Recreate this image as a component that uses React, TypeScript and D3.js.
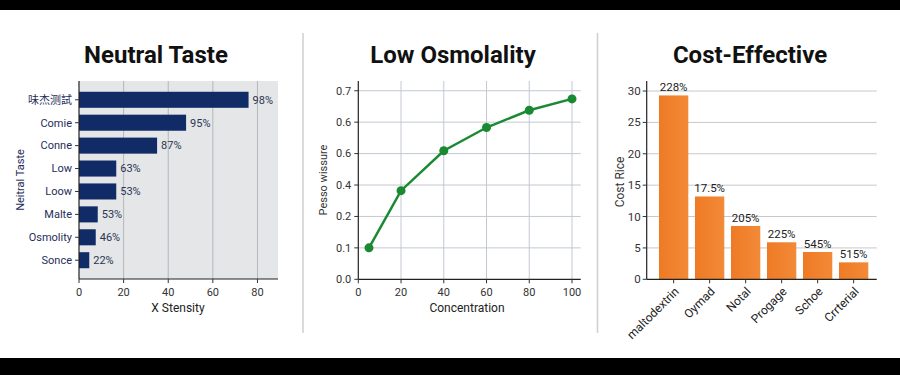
import React from "react";
import * as d3 from "d3";

const tasteCategories = ["味杰测試", "Comie", "Conne", "Low", "Loow", "Malte", "Osmolity", "Sonce"];
const tasteValues = [76, 48, 35, 16.7, 16.7, 8.4, 7.5, 4.6];
const tasteLabels = ["98%", "95%", "87%", "63%", "53%", "53%", "46%", "22%"];
const tasteTicks = [0, 20, 40, 60, 80];

const osmoX = [5, 20, 40, 60, 80, 100];
const osmoY = [0.1, 0.282, 0.409, 0.483, 0.538, 0.574];
const osmoXTicks = [0, 20, 40, 60, 80, 100];
const osmoYTicks = [0, 0.1, 0.2, 0.3, 0.4, 0.5, 0.6];
const osmoYTickLabels = ["0.0", "0.1", "0.2", "0.4", "0.6", "0.6", "0.7"];

const costCategories = ["maltodextrin", "Oymad", "Notal", "Progage", "Schoe", "Crrterial"];
const costValues = [29.3, 13.2, 8.5, 5.9, 4.35, 2.7];
const costLabels = ["228%", "17.5%", "205%", "225%", "545%", "515%"];
const costTicks = [0, 5, 10, 15, 20, 25, 30];

const FONT = "Roboto, 'Noto Sans', 'Noto Sans CJK SC', sans-serif";

function TastePanel() {
  const x0 = 79, x1 = 278, y0 = 81, y1 = 279;
  const x = d3.scaleLinear().domain([0, 89.2]).range([x0, x1]);
  const y = d3.scaleBand<string>().domain(tasteCategories.map((c, i) => i + "")).range([y0, y1]).paddingInner(0.3).paddingOuter(0.47);
  const navy = "#102b66";
  return (
    <g>
      <text x={156} y={63} textAnchor="middle" fontSize={24} fontWeight="bold" fill="#111" fontFamily={FONT}>Neutral Taste</text>
      <rect x={x0} y={y0} width={x1 - x0} height={y1 - y0} fill="#e4e6e8" />
      {tasteTicks.filter((t) => t > 0).map((t) => (
        <line key={t} x1={x(t)} x2={x(t)} y1={y0} y2={y1} stroke="#b4b8bd" strokeWidth={1} />
      ))}
      {tasteValues.map((v, i) => (
        <rect key={i} x={x(0)} y={y(i + "")!} width={x(v) - x(0)} height={y.bandwidth()} fill={navy} />
      ))}
      {tasteValues.map((v, i) => (
        <text key={i} x={x(v) + 4} y={y(i + "")! + y.bandwidth() / 2} dy="0.35em" fontSize={11} fill="#2b3550" fontFamily={FONT}>{tasteLabels[i]}</text>
      ))}
      <line x1={x0} x2={x0} y1={y0} y2={y1} stroke="#222" strokeWidth={1.2} />
      <line x1={x0} x2={x1} y1={y1} y2={y1} stroke="#222" strokeWidth={1.2} />
      {tasteCategories.map((c, i) => (
        <g key={i}>
          <line x1={x0 - 4} x2={x0} y1={y(i + "")! + y.bandwidth() / 2} y2={y(i + "")! + y.bandwidth() / 2} stroke="#333" />
          <text x={x0 - 7} y={y(i + "")! + y.bandwidth() / 2} dy="0.35em" textAnchor="end" fontSize={11} fill="#1f2d5a" fontFamily={FONT}>{c}</text>
        </g>
      ))}
      {tasteTicks.map((t) => (
        <g key={t}>
          <line x1={x(t)} x2={x(t)} y1={y1} y2={y1 + 4} stroke="#333" />
          <text x={x(t)} y={y1 + 17} textAnchor="middle" fontSize={11} fill="#333" fontFamily={FONT}>{t}</text>
        </g>
      ))}
      <text x={178} y={312} textAnchor="middle" fontSize={12} fill="#222" fontFamily={FONT}>X Stensity</text>
      <text transform="translate(24,180) rotate(-90)" textAnchor="middle" fontSize={11} fill="#1f2d5a" fontFamily={FONT}>Neitral Taste</text>
    </g>
  );
}

function OsmoPanel() {
  const x0 = 358.3, x1 = 580.7, y0 = 81, y1 = 279.3;
  const xs = d3.scaleLinear().domain([0, 100]).range([x0, 572]);
  const y = d3.scaleLinear().domain([0, 0.631]).range([y1, y0]);
  const green = "#1a8a32";
  const line = d3.line<number>().x((_, i) => xs(osmoX[i])).y((d) => y(d));
  return (
    <g>
      <text x={453} y={63} textAnchor="middle" fontSize={24} fontWeight="bold" fill="#111" fontFamily={FONT}>Low Osmolality</text>
      {osmoXTicks.filter((t) => t > 0).map((t) => (
        <line key={t} x1={xs(t)} x2={xs(t)} y1={y0} y2={y1} stroke="#c3c8d3" strokeWidth={1} />
      ))}
      {osmoYTicks.filter((t) => t > 0).map((t) => (
        <line key={t} x1={x0} x2={x1} y1={y(t)} y2={y(t)} stroke="#c3c8d3" strokeWidth={1} />
      ))}
      <line x1={x0} x2={x0} y1={y0} y2={y1} stroke="#222" strokeWidth={1.2} />
      <line x1={x0} x2={x1} y1={y1} y2={y1} stroke="#222" strokeWidth={1.2} />
      {osmoYTicks.map((t, i) => (
        <g key={i}>
          <line x1={x0 - 4} x2={x0} y1={y(t)} y2={y(t)} stroke="#333" />
          <text x={x0 - 7} y={y(t)} dy="0.35em" textAnchor="end" fontSize={11} fill="#333" fontFamily={FONT}>{osmoYTickLabels[i]}</text>
        </g>
      ))}
      {osmoXTicks.map((t) => (
        <g key={t}>
          <line x1={xs(t)} x2={xs(t)} y1={y1} y2={y1 + 4} stroke="#333" />
          <text x={xs(t)} y={y1 + 17} textAnchor="middle" fontSize={11} fill="#333" fontFamily={FONT}>{t}</text>
        </g>
      ))}
      <path d={line(osmoY) || ""} fill="none" stroke={green} strokeWidth={2.5} />
      {osmoY.map((v, i) => (
        <circle key={i} cx={xs(osmoX[i])} cy={y(v)} r={4.5} fill={green} />
      ))}
      <text x={467} y={312} textAnchor="middle" fontSize={12} fill="#222" fontFamily={FONT}>Concentration</text>
      <text transform="translate(327,180) rotate(-90)" textAnchor="middle" fontSize={11} fill="#333" fontFamily={FONT}>Pesso wissure</text>
    </g>
  );
}

function CostPanel() {
  const x0 = 646.7, x1 = 876.7, y0 = 81, y1 = 279.3;
  const x = d3.scaleBand<string>().domain(costCategories).range([x0, x1]).paddingInner(0.186).paddingOuter(0.2875).align(0.594);
  const y = d3.scaleLinear().domain([0, 31.6]).range([y1, y0]);
  return (
    <g>
      <defs>
        <linearGradient id="orangeGrad" x1="0" x2="1" y1="0" y2="0">
          <stop offset="0" stopColor="#ef7a25" />
          <stop offset="1" stopColor="#f28a38" />
        </linearGradient>
      </defs>
      <text x={750} y={63} textAnchor="middle" fontSize={24} fontWeight="bold" fill="#111" fontFamily={FONT}>Cost-Effective</text>
      {costTicks.filter((t) => t > 0).map((t) => (
        <line key={t} x1={x0} x2={x1} y1={y(t)} y2={y(t)} stroke="#c8c8c8" strokeWidth={1} />
      ))}
      {costValues.map((v, i) => (
        <rect key={i} x={x(costCategories[i])!} y={y(v)} width={x.bandwidth()} height={y(0) - y(v)} fill="url(#orangeGrad)" />
      ))}
      {costValues.map((v, i) => (
        <text key={i} x={x(costCategories[i])! + x.bandwidth() / 2} y={y(v) - 4} textAnchor="middle" fontSize={11.5} fill="#222" fontFamily={FONT}>{costLabels[i]}</text>
      ))}
      <line x1={x0} x2={x0} y1={y0} y2={y1} stroke="#222" strokeWidth={1.2} />
      <line x1={x0} x2={x1} y1={y1} y2={y1} stroke="#222" strokeWidth={1.2} />
      {costTicks.map((t) => (
        <g key={t}>
          <line x1={x0 - 4} x2={x0} y1={y(t)} y2={y(t)} stroke="#333" />
          <text x={x0 - 6} y={y(t)} dy="0.35em" textAnchor="end" fontSize={11.5} fill="#333" fontFamily={FONT}>{t}</text>
        </g>
      ))}
      {costCategories.map((c) => {
        const cx = x(c)! + x.bandwidth() / 2;
        return (
          <g key={c}>
            <line x1={cx} x2={cx} y1={y1} y2={y1 + 4} stroke="#333" />
            <text transform={`translate(${cx + 3},${y1 + 10}) rotate(-45)`} textAnchor="end" dy="0.35em" fontSize={12} fill="#222" fontFamily={FONT}>{c}</text>
          </g>
        );
      })}
      <text transform="translate(624,182) rotate(-90)" textAnchor="middle" fontSize={12} fill="#333" fontFamily={FONT}>Cost Rice</text>
    </g>
  );
}

export default function App() {
  return (
    <svg width={900} height={375} style={{ position: "fixed", left: 0, top: 0, background: "#fff" }}>
      <rect x={0} y={0} width={900} height={375} fill="#fff" />
      <rect x={0} y={0} width={900} height={10} fill="#000" />
      <rect x={0} y={358} width={900} height={17} fill="#000" />
      <line x1={303} x2={303} y1={33} y2={333} stroke="#cfcfcf" strokeWidth={1.5} />
      <line x1={597.5} x2={597.5} y1={33} y2={333} stroke="#cfcfcf" strokeWidth={1.5} />
      <TastePanel />
      <OsmoPanel />
      <CostPanel />
    </svg>
  );
}
